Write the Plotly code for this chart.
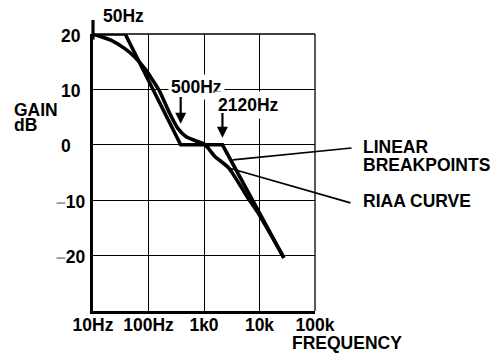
import math
import plotly.graph_objects as go

# ---- data ----
breakpoint_freq = [10, 38, 380, 2150, 27500]
breakpoint_db = [20, 20, 0, 0, -20.4]

riaa_freq = [10, 21, 37, 57, 88, 115, 156, 235, 335, 470, 760, 1050, 1570, 2800, 6100, 9300, 27500]
riaa_db = [20, 18.9, 17.4, 15.8, 13.6, 11.9, 9.8, 5.9, 3.0, 1.5, 0.6, 0.0, -2.1, -4.2, -9.5, -12.2, -20.4]

x_tick_vals = [10, 100, 1000, 10000, 100000]
x_tick_text = ["10Hz", "100Hz", "1k0", "10k", "100k"]
y_tick_vals = [20, 10, 0, -10, -20]
y_tick_text = ["20", "10", "0", "\u201310", "\u201320"]

corner_labels = ["50Hz", "500Hz", "2120Hz"]

# ---- layout geometry (pixels) ----
W, H = 493, 355
PL, PR, PT, PB = 93, 315, 34, 311
XR = [1, 5]
YR = [-30, 20]

FONT = "Liberation Sans, Arial, sans-serif"
FS = 17.5


def px_x(px):
    return (px - PL) / (PR - PL)


def px_y(py):
    return (PB - py) / (PB - PT)


def px_to_logx(px):
    return XR[0] + (px - PL) / (PR - PL) * (XR[1] - XR[0])


def px_to_db(py):
    return YR[1] - (py - PT) / (PB - PT) * (YR[1] - YR[0])


def data_to_px(f, db):
    x = PL + (math.log10(f) - XR[0]) / (XR[1] - XR[0]) * (PR - PL)
    y = PT + (YR[1] - db) / (YR[1] - YR[0]) * (PB - PT)
    return x, y


fig = go.Figure()
fig.add_trace(go.Scatter(x=breakpoint_freq, y=breakpoint_db, mode="lines",
                         line=dict(color="black", width=3.6), hoverinfo="skip"))
fig.add_trace(go.Scatter(x=riaa_freq, y=riaa_db, mode="lines",
                         line=dict(color="black", width=3.6, shape="spline", smoothing=0.6),
                         hoverinfo="skip"))

bold = dict(family=FONT, size=FS, color="black", weight="bold")
ann = []

# y tick labels (left aligned as in the original)
for v, t in zip(y_tick_vals, y_tick_text):
    if t.startswith("\u2013"):
        txt = '<span style="color:#9a9a9a">\u2013</span>' + t[1:]
        left = 54
    else:
        txt = t
        left = 59
    ann.append(dict(text=txt, x=px_x(left), xref="paper", xanchor="left",
                    y=v, yref="y", yanchor="middle", yshift=-1.5,
                    showarrow=False, font=bold))

# axis titles
ann.append(dict(text="GAIN", x=px_x(12), y=px_y(109.5), xref="paper", yref="paper",
                xanchor="left", yanchor="middle", showarrow=False, font=bold))
ann.append(dict(text="dB", x=px_x(12), y=px_y(125), xref="paper", yref="paper",
                xanchor="left", yanchor="middle", showarrow=False, font=bold))
ann.append(dict(text="FREQUENCY", x=px_x(290), y=px_y(343), xref="paper", yref="paper",
                xanchor="left", yanchor="middle", showarrow=False, font=bold))

# corner labels
ann.append(dict(text=corner_labels[0], x=px_x(123), y=px_y(16), xref="paper", yref="paper",
                xanchor="center", yanchor="middle", showarrow=False, font=bold))
ann.append(dict(text=corner_labels[1], x=px_x(196), y=px_y(86.5), xref="paper", yref="paper",
                xanchor="center", yanchor="middle", showarrow=False, font=bold,
                bgcolor="white", borderpad=2))
ann.append(dict(text=corner_labels[2], x=px_x(248.5), y=px_y(105), xref="paper", yref="paper",
                xanchor="center", yanchor="middle", showarrow=False, font=bold,
                bgcolor="white", borderpad=3))

# arrows to corners 2 and 3
for idx, tail_py, stand in [(2, 96, 21), (3, 112, 7)]:
    f, d = breakpoint_freq[idx], breakpoint_db[idx]
    hx, hy = data_to_px(f, d)
    ann.append(dict(text=" ", x=math.log10(f), y=d, xref="x", yref="y",
                    showarrow=True, ax=0, ay=tail_py - hy, axref="pixel", ayref="pixel",
                    arrowhead=2, arrowsize=1.0, arrowwidth=2.2, arrowcolor="black",
                    standoff=stand, font=dict(size=1), borderpad=0))

# legend labels
ann.append(dict(text="LINEAR", x=px_x(361), y=px_y(146.5), xref="paper", yref="paper",
                xanchor="left", yanchor="middle", showarrow=False, font=bold))
ann.append(dict(text="BREAKPOINTS", x=px_x(361), y=px_y(165), xref="paper", yref="paper",
                xanchor="left", yanchor="middle", showarrow=False, font=bold))
ann.append(dict(text="RIAA CURVE", x=px_x(361), y=px_y(201.5), xref="paper", yref="paper",
                xanchor="left", yanchor="middle", showarrow=False, font=bold))

# leader lines
t = 0.135
lf0, lf1 = math.log10(breakpoint_freq[3]), math.log10(breakpoint_freq[4])
lead1_f = 10 ** (lf0 + t * (lf1 - lf0))
lead1_d = breakpoint_db[3] + t * (breakpoint_db[4] - breakpoint_db[3])
lead2_f, lead2_d = riaa_freq[13], riaa_db[13]
for (f, d, tx, ty, so) in [(lead1_f, lead1_d, 352, 148, 2), (lead2_f, lead2_d, 351, 203, 0)]:
    hx, hy = data_to_px(f, d)
    ann.append(dict(text=" ", x=math.log10(f), y=d, xref="x", yref="y",
                    showarrow=True, ax=tx - hx, ay=ty - hy, axref="pixel", ayref="pixel",
                    arrowhead=0, arrowwidth=1.6, arrowcolor="black", standoff=so,
                    font=dict(size=1), borderpad=0))

shapes = [
    # white patch behind the corner labels (between grid and curves)
    dict(type="rect", xref="x", yref="y",
         x0=px_to_logx(163), x1=px_to_logx(237), y0=px_to_db(138), y1=px_to_db(77),
         fillcolor="white", line=dict(width=0), layer="between"),
    # top and right borders
    dict(type="line", xref="paper", yref="paper", x0=0, x1=1, y0=1, y1=1,
         line=dict(color="black", width=1.3)),
    dict(type="line", xref="paper", yref="paper", x0=1, x1=1, y0=0, y1=1,
         line=dict(color="black", width=1.3)),
    # gain axis extends above the grid
    dict(type="line", xref="paper", yref="paper", x0=0, x1=0, y0=0.98, y1=px_y(20),
         line=dict(color="black", width=3.2)),
]

fig.update_layout(
    width=W, height=H,
    margin=dict(l=PL, r=W - PR, t=PT, b=H - PB, pad=0),
    paper_bgcolor="white", plot_bgcolor="white",
    showlegend=False,
    annotations=ann, shapes=shapes,
    font=dict(family=FONT, color="black"),
)
fig.update_xaxes(type="log", range=XR, tickvals=x_tick_vals, ticktext=x_tick_text,
                 showgrid=True, gridcolor="black", gridwidth=1.2,
                 showline=True, linecolor="black", linewidth=3.2, mirror=False,
                 ticks="", tickfont=bold, ticklabelstandoff=-4,
                 zeroline=False, fixedrange=True)
fig.update_yaxes(range=YR, tickvals=y_tick_vals, showticklabels=False,
                 showgrid=True, gridcolor="black", gridwidth=1.2,
                 showline=True, linecolor="black", linewidth=3.2, mirror=False,
                 ticks="", zeroline=False, fixedrange=True)

fig.write_html("out.html", config={"displayModeBar": False},
               post_script="document.body.style.margin='0';document.body.style.padding='0';")
